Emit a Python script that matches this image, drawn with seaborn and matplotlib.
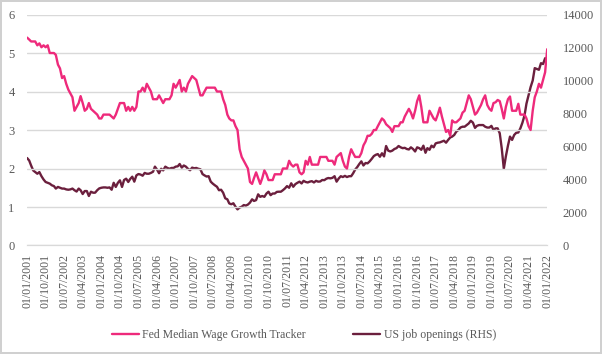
import pandas as pd
import matplotlib
matplotlib.use("Agg")
import matplotlib.pyplot as plt
import matplotlib.dates as mdates
import seaborn as sns

# --- DATOS (mensuales desde 01/01/2001) ---
start_month = "2001-01-01"

wage_growth = [
    5.4, 5.35, 5.3, 5.3, 5.3, 5.2, 5.25, 5.15, 5.2, 5.15, 5.2, 5.0,
    5.0, 5.0, 4.95, 4.7, 4.6, 4.35, 4.4, 4.2, 4.05, 3.95, 3.85, 3.5,
    3.6, 3.7, 3.88, 3.7, 3.5, 3.55, 3.7, 3.55, 3.5, 3.45, 3.4, 3.3,
    3.3, 3.4, 3.4, 3.4, 3.4, 3.35, 3.3, 3.4, 3.55, 3.7, 3.7, 3.7,
    3.5, 3.6, 3.5, 3.6, 3.5, 3.6, 4.0, 4.0, 4.1, 4.0, 4.2, 4.1,
    4.0, 3.8, 3.8, 3.8, 3.9, 3.8, 3.7, 3.8, 3.8, 3.8, 3.9, 4.2,
    4.1, 4.2, 4.3, 4.0, 4.1, 4.0, 4.2, 4.3, 4.4, 4.35, 4.3, 4.1,
    3.9, 3.9, 4.0, 4.1, 4.1, 4.1, 4.1, 4.1, 4.0, 4.0, 4.0, 3.8,
    3.65, 3.4, 3.3, 3.25, 3.25, 3.1, 3.0, 2.5, 2.3, 2.2, 2.1, 2.0,
    1.65, 1.6, 1.75, 1.9, 1.75, 1.6, 1.75, 1.95, 1.85, 1.7, 1.7, 1.7,
    1.85, 1.85, 1.85, 1.85, 2.0, 2.0, 2.0, 2.2, 2.1, 2.05, 2.1, 2.1,
    1.9, 1.85, 1.9, 2.2, 2.1, 2.3, 2.1, 2.1, 2.1, 2.1, 2.3, 2.3,
    2.3, 2.3, 2.2, 2.2, 2.2, 2.1, 2.3, 2.35, 2.4, 2.2, 2.05, 2.0,
    2.3, 2.5, 2.4, 2.3, 2.3, 2.3, 2.4, 2.6, 2.7, 2.85, 2.85, 2.9,
    3.0, 3.0, 3.1, 3.2, 3.3, 3.25, 3.15, 3.1, 3.05, 2.95, 3.1, 3.1,
    3.1, 3.2, 3.2, 3.35, 3.45, 3.55, 3.45, 3.3, 3.5, 3.75, 3.9, 3.6,
    3.2, 3.2, 3.2, 3.5, 3.4, 3.3, 3.25, 3.4, 3.58, 3.35, 3.15, 2.95,
    3.0, 2.85, 3.25, 3.2, 3.2, 3.25, 3.3, 3.45, 3.5, 3.7, 3.9, 3.8,
    3.6, 3.4, 3.45, 3.55, 3.65, 3.8, 3.9, 3.65, 3.55, 3.5, 3.7, 3.72,
    3.78, 3.75, 3.55, 3.3, 3.6, 3.8, 3.87, 3.5, 3.5, 3.5, 3.68, 3.4,
    3.4, 3.4, 3.3, 3.1, 3.0, 3.5, 3.85, 4.0, 4.2, 4.1, 4.3, 4.5,
    5.1,
]

job_openings = [
    5300, 5150, 4850, 4550, 4450, 4350, 4450, 4200, 4000, 3850, 3800, 3750,
    3650, 3600, 3450, 3550, 3500, 3450, 3450, 3400, 3380, 3400, 3450, 3350,
    3270, 3450, 3350, 3120, 3300, 3300, 3000, 3260, 3200, 3200, 3350, 3460,
    3500, 3520, 3520, 3500, 3520, 3380, 3800, 3550, 3800, 3950, 3550, 3970,
    4050, 3850, 4030, 4170, 3870, 4250, 4330, 4300, 4230, 4400, 4350, 4350,
    4400, 4470, 4780, 4600, 4380, 4650, 4550, 4780, 4700, 4650, 4700, 4700,
    4780, 4800, 4940, 4720, 4850, 4780, 4650, 4560, 4720, 4680, 4700, 4650,
    4620, 4330, 4250, 4180, 4200, 3870, 3750, 3650, 3560, 3350, 3380, 3200,
    2860, 2800, 2550, 2500, 2560, 2350, 2190, 2300, 2350, 2450, 2420, 2480,
    2600, 2800, 2700, 2750, 3100, 2950, 3000, 2950, 3150, 3260, 3050, 3150,
    3150, 3250, 3260, 3260, 3350, 3460, 3600, 3500, 3770, 3560, 3720, 3800,
    3870, 3760, 3920, 3850, 3820, 3870, 3900, 3820, 3920, 3870, 3880, 3970,
    3960, 4050, 4090, 4070, 4100, 4200, 3870, 4060, 4200, 4150, 4220, 4150,
    4200, 4200, 4370, 4600, 4750, 4940, 5100, 4850, 5000, 4980, 5100, 5250,
    5420, 5500, 5540, 5380, 5590, 5400, 6030, 5750, 5700, 5750, 5850, 5900,
    6030, 5950, 5900, 5920, 5850, 5820, 5950, 5850, 5700, 5950, 5900, 5800,
    6050, 5620, 5900, 5800, 6050, 5950, 6190, 6230, 6250, 6300, 6350, 6230,
    6400, 6550, 6600, 6700, 6900, 7000, 7150, 7200, 7200, 7300, 7400, 7560,
    7450, 7130, 7250, 7300, 7300, 7300, 7200, 7150, 7150, 7250, 7000, 7100,
    7100, 6800, 5900, 4650, 5400, 6050, 6600, 6400, 6700, 6830, 6850, 7100,
    7450, 7900, 8600, 9100, 9600, 10000, 10750, 10700, 10650, 11050, 11000, 11350,
    11250,
]

wage_label = "Fed Median Wage Growth Tracker"
jobs_label = "US job openings (RHS)"

dates = pd.date_range(start_month, periods=len(wage_growth), freq="MS")
df = pd.DataFrame({"fecha": dates, "salario": wage_growth, "vacantes": job_openings})

# --- ESTILO ---
sns.set_style("white")
plt.rcParams["font.family"] = ["Liberation Serif", "DejaVu Serif"]
gris_texto = "#595959"
gris_linea = "#d9d9d9"
rosa = "#ee2a7b"
granate = "#6b1f3d"

fig = plt.figure(figsize=(6.02, 3.54), dpi=100)
fig.patch.set_edgecolor("#d0d0d0")
fig.patch.set_linewidth(1.5)
ax = fig.add_axes([0.045, 0.3065, 0.864, 0.6525])
ax2 = ax.twinx()

sns.lineplot(data=df, x="fecha", y="salario", ax=ax, color=rosa, linewidth=1.7, label=wage_label, legend=False)
sns.lineplot(data=df, x="fecha", y="vacantes", ax=ax2, color=granate, linewidth=1.7, label=jobs_label, legend=False)

# ejes Y
ax.set_ylim(0, 6)
ax.set_yticks(range(0, 7))
ax2.set_ylim(0, 14000)
ax2.set_yticks(range(0, 14001, 2000))
ax.grid(axis="y", color=gris_linea, linewidth=1)
ax.set_axisbelow(True)
ax.set_zorder(ax2.get_zorder() + 1)
ax.patch.set_visible(False)
ax.tick_params(axis="y", length=0, pad=9, labelsize=9, labelcolor=gris_texto)
ax2.tick_params(axis="y", length=0, pad=11, labelsize=9, labelcolor=gris_texto)

# eje X
ticks = pd.date_range("2001-01-01", "2022-01-01", freq="9MS")
ax.set_xlim(dates[0], dates[-1])
ax.set_xticks(ticks)
ax.xaxis.set_major_formatter(mdates.DateFormatter("%d/%m/%Y"))
ax.tick_params(axis="x", length=4, width=1, color=gris_linea, pad=2, labelsize=8.5,
               labelcolor=gris_texto, rotation=90)
ax.set_xlabel("")
ax.set_ylabel("")
ax2.set_ylabel("")

for a in (ax, ax2):
    for lado in ("left", "right", "top"):
        a.spines[lado].set_visible(False)
    a.spines["bottom"].set_color(gris_linea)

# leyenda
h1, l1 = ax.get_legend_handles_labels()
h2, l2 = ax2.get_legend_handles_labels()
fig.legend(h1 + h2, l1 + l2, loc="center", bbox_to_anchor=(0.505, 0.053), ncol=2,
           frameon=False, fontsize=8.5, labelcolor=gris_texto, handlelength=2.3,
           handletextpad=0.3, columnspacing=4.0)

plt.savefig("out.png", dpi=100)
